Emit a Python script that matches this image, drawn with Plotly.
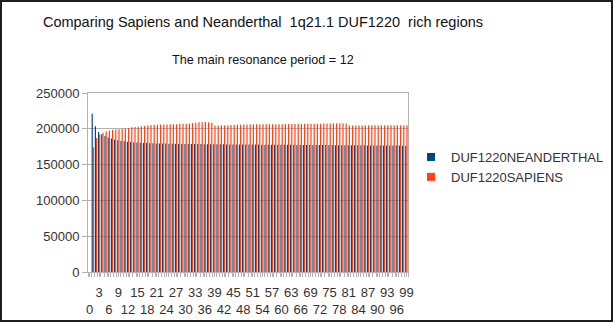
import plotly.graph_objects as go

categories = list(range(100))

neanderthal = [
    0, 221000, 203500, 195500, 192500, 190000, 188000, 186500, 185000, 184000,
    183000, 182500, 182000, 181500, 181000, 180800, 180500, 180300, 180000, 179800,
    179700, 179600, 179500, 179400, 179300, 179200, 179100, 179000, 179000, 178900,
    178800, 178800, 178700, 178700, 178600, 178600, 178500, 178500, 178400, 178400,
    178300, 178300, 178300, 178200, 178200, 178200, 178100, 178100, 178000, 178000,
    178000, 177950, 177900, 177900, 177850, 177800, 177800, 177750, 177700, 177700,
    177700, 177650, 177600, 177600, 177550, 177500, 177500, 177450, 177400, 177400,
    177400, 177350, 177300, 177300, 177250, 177200, 177200, 177150, 177100, 177100,
    177100, 177050, 177000, 177000, 176950, 176900, 176900, 176850, 176800, 176800,
    176800, 176750, 176700, 176700, 176650, 176600, 176600, 176550, 176500, 176500,
]

sapiens = [
    0, 174000, 187000, 192000, 194500, 196500, 197500, 198500, 199000, 199500,
    200000, 200500, 201000, 202000, 202500, 203000, 203500, 204000, 204500, 205000,
    205500, 205500, 206000, 206000, 206000, 206500, 206500, 206500, 207000, 207000,
    207000, 207500, 208000, 208500, 209000, 209000, 209500, 209000, 208500, 204500,
    204500, 204800, 205000, 205000, 205200, 205500, 205500, 205800, 206000, 206000,
    206000, 206200, 206200, 206300, 206300, 206400, 206400, 206500, 206500, 206500,
    206500, 206600, 206600, 206700, 206700, 206800, 206800, 206900, 206900, 207000,
    207000, 207100, 207200, 207300, 207400, 207500, 207600, 207700, 207800, 207800,
    207500, 204500, 204500, 204600, 204600, 204700, 204700, 204800, 204800, 204800,
    204900, 204900, 204900, 205000, 205000, 205000, 205000, 205000, 205000, 205000,
]

series_names = ["DUF1220NEANDERTHAL", "DUF1220SAPIENS"]
series_colors = ["#004586", "#ff420e"]
bar_colors = ["rgba(0,69,134,0.99)", "rgba(255,66,14,0.99)"]

x_tick_vals = list(range(0, 100, 3))
x_tick_text = [str(v) if (v // 3) % 2 == 1 else "<br>" + str(v) for v in x_tick_vals]

y_tick_vals = [0, 50000, 100000, 150000, 200000, 250000]

title_text = "Comparing Sapiens and Neanderthal\u00a0 1q21.1 DUF1220\u00a0 rich regions"
subtitle_text = "The main resonance period = 12"

FONT = "Liberation Sans, Arial, sans-serif"

W, H = 613, 322
L, R, T, B = 88, 0, 93, 50
PW, PH = W - L - R, H - T - B          # paper size in px
PLOT_W = 320                           # plot-area width in px


def px2x(px):
    return (px - L) / PW


def px2y(py):
    return (H - B - py) / PH


fig = go.Figure()
for name, vals, col in zip(series_names, [neanderthal, sapiens], bar_colors):
    fig.add_trace(go.Bar(x=categories, y=vals, name=name,
                         marker=dict(color=col, line=dict(width=0)), showlegend=False))
for name, col in zip(series_names, series_colors):
    fig.add_trace(go.Scatter(x=[None], y=[None], mode="markers", name=name,
                             marker=dict(symbol="square", size=8, color=col)))

fig.update_layout(
    width=W, height=H, autosize=False,
    margin=dict(l=L, r=R, t=T, b=B, pad=0, autoexpand=False),
    paper_bgcolor="white", plot_bgcolor="white",
    barmode="group", bargap=0.25, bargroupgap=0,
    font=dict(family=FONT, size=13, color="#333333"),
    title=dict(text=title_text, x=px2x(263), xref="paper", xanchor="center",
               y=1 - 22 / H, yref="container", yanchor="middle",
               font=dict(family=FONT, size=14.5, color="#111111")),
    legend=dict(x=px2x(411), xanchor="left", y=px2y(167), yanchor="middle",
                font=dict(family=FONT, size=13, color="#333333"), bgcolor="rgba(0,0,0,0)",
                itemwidth=30, tracegroupgap=0),
    xaxis=dict(domain=[0, PLOT_W / PW], type="linear", range=[-0.5, 99.5],
               tickmode="array", tickvals=x_tick_vals, ticktext=x_tick_text,
               ticks="outside", ticklen=4, tickcolor="#b3b3b3",
               showgrid=False, zeroline=False, showline=True, linecolor="#b3b3b3", mirror=True,
               tickfont=dict(family=FONT, size=13, color="#333333"), tickangle=0,
               ticklabelstandoff=4,
               minor=dict(ticks="outside", ticklen=4, tickcolor="#b3b3b3", tick0=-0.5, dtick=1,
                          showgrid=False)),
    yaxis=dict(range=[0, 250000], tickmode="array", tickvals=y_tick_vals,
               ticktext=[str(v) for v in y_tick_vals], ticks="outside", ticklen=5,
               tickcolor="#b3b3b3", showgrid=True, gridcolor="#b3b3b3", gridwidth=1,
               zeroline=False, showline=True, linecolor="#b3b3b3", mirror=True,
               tickfont=dict(family=FONT, size=13, color="#333333")),
    annotations=[dict(text=subtitle_text, xref="paper", yref="paper", x=px2x(263),
                      y=px2y(60), xanchor="center", yanchor="middle", showarrow=False,
                      font=dict(family=FONT, size=12.6, color="#111111"))],
    shapes=[dict(type="rect", xref="paper", yref="paper",
                 x0=px2x(1), x1=px2x(W - 1), y0=px2y(H - 1), y1=px2y(1),
                 line=dict(color="#1e1e1e", width=2), fillcolor="rgba(0,0,0,0)", layer="above")],
)

fig.write_html("out.html")
